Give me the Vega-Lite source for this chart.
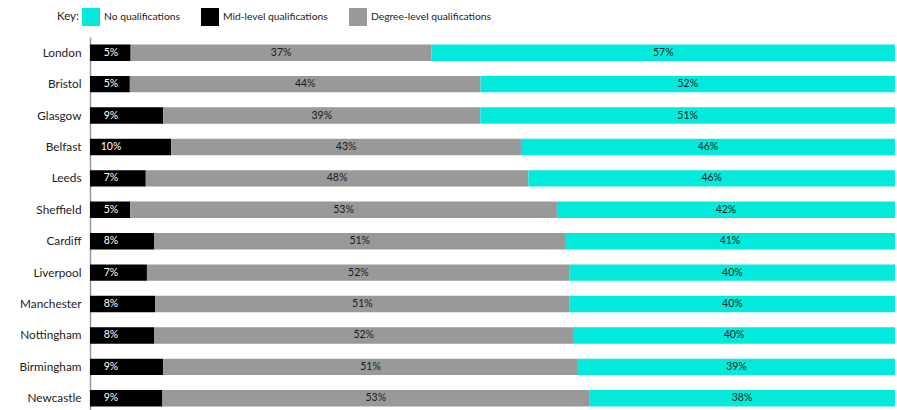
{
  "$schema": "https://vega.github.io/schema/vega-lite/v6.json",
  "width": 805,
  "height": 377,
  "autosize": "none",
  "padding": {"left": 90, "top": 37, "right": 2, "bottom": 0},
  "config": {"view": {"stroke": null}, "font": "Lato", "text": {"font": "Lato"}},
  "data": {"values": [
    {"city": "London", "q": "Mid-level qualifications", "v": 5, "k": 1},
    {"city": "London", "q": "Degree-level qualifications", "v": 37, "k": 2},
    {"city": "London", "q": "No qualifications", "v": 57, "k": 3},
    {"city": "Bristol", "q": "Mid-level qualifications", "v": 5, "k": 1},
    {"city": "Bristol", "q": "Degree-level qualifications", "v": 44, "k": 2},
    {"city": "Bristol", "q": "No qualifications", "v": 52, "k": 3},
    {"city": "Glasgow", "q": "Mid-level qualifications", "v": 9, "k": 1},
    {"city": "Glasgow", "q": "Degree-level qualifications", "v": 39, "k": 2},
    {"city": "Glasgow", "q": "No qualifications", "v": 51, "k": 3},
    {"city": "Belfast", "q": "Mid-level qualifications", "v": 10, "k": 1},
    {"city": "Belfast", "q": "Degree-level qualifications", "v": 43, "k": 2},
    {"city": "Belfast", "q": "No qualifications", "v": 46, "k": 3},
    {"city": "Leeds", "q": "Mid-level qualifications", "v": 7, "k": 1},
    {"city": "Leeds", "q": "Degree-level qualifications", "v": 48, "k": 2},
    {"city": "Leeds", "q": "No qualifications", "v": 46, "k": 3},
    {"city": "Sheffield", "q": "Mid-level qualifications", "v": 5, "k": 1},
    {"city": "Sheffield", "q": "Degree-level qualifications", "v": 53, "k": 2},
    {"city": "Sheffield", "q": "No qualifications", "v": 42, "k": 3},
    {"city": "Cardiff", "q": "Mid-level qualifications", "v": 8, "k": 1},
    {"city": "Cardiff", "q": "Degree-level qualifications", "v": 51, "k": 2},
    {"city": "Cardiff", "q": "No qualifications", "v": 41, "k": 3},
    {"city": "Liverpool", "q": "Mid-level qualifications", "v": 7, "k": 1},
    {"city": "Liverpool", "q": "Degree-level qualifications", "v": 52, "k": 2},
    {"city": "Liverpool", "q": "No qualifications", "v": 40, "k": 3},
    {"city": "Manchester", "q": "Mid-level qualifications", "v": 8, "k": 1},
    {"city": "Manchester", "q": "Degree-level qualifications", "v": 51, "k": 2},
    {"city": "Manchester", "q": "No qualifications", "v": 40, "k": 3},
    {"city": "Nottingham", "q": "Mid-level qualifications", "v": 8, "k": 1},
    {"city": "Nottingham", "q": "Degree-level qualifications", "v": 52, "k": 2},
    {"city": "Nottingham", "q": "No qualifications", "v": 40, "k": 3},
    {"city": "Birmingham", "q": "Mid-level qualifications", "v": 9, "k": 1},
    {"city": "Birmingham", "q": "Degree-level qualifications", "v": 51, "k": 2},
    {"city": "Birmingham", "q": "No qualifications", "v": 39, "k": 3},
    {"city": "Newcastle", "q": "Mid-level qualifications", "v": 9, "k": 1},
    {"city": "Newcastle", "q": "Degree-level qualifications", "v": 53, "k": 2},
    {"city": "Newcastle", "q": "No qualifications", "v": 38, "k": 3}
  ]},
  "encoding": {
    "y": {
      "field": "city",
      "type": "nominal",
      "sort": null,
      "scale": {"paddingInner": 0.48, "paddingOuter": 0.24},
      "axis": {
        "title": null,
        "ticks": false,
        "labelPadding": 9,
        "labelFontSize": 11.8,
        "labelColor": "#222222",
        "labelFont": "Lato",
        "domainColor": "#999999",
        "domainWidth": 1.5
      }
    }
  },
  "layer": [
    {
      "mark": {"type": "bar"},
      "encoding": {
        "x": {"field": "v", "type": "quantitative", "stack": "normalize", "axis": null, "scale": {"nice": false}},
        "color": {
          "field": "q",
          "type": "nominal",
          "scale": {
            "domain": ["No qualifications", "Mid-level qualifications", "Degree-level qualifications"],
            "range": ["#03EADD", "#000000", "#999999"]
          },
          "legend": {
            "title": "Key:",
            "titleOrient": "left",
            "titleFontWeight": "normal",
            "titleFontSize": 11.5,
            "titleColor": "#222222",
            "titleFont": "Lato",
            "titlePadding": 3,
            "orient": "none",
            "legendX": -33,
            "legendY": -29,
            "direction": "horizontal",
            "symbolType": "square",
            "symbolSize": 324,
            "symbolStrokeWidth": 0,
            "symbolOpacity": 1,
            "labelOffset": 4,
            "labelFontSize": 10.3,
            "labelColor": "#222222",
            "labelFont": "Lato",
            "columnPadding": 21
          }
        },
        "order": {"field": "k", "type": "quantitative"}
      }
    },
    {
      "mark": {
        "type": "text",
        "fontSize": 10.5,
        "color": "#1a1a1a",
        "align": "center",
        "baseline": "middle",
        "text": {"expr": "datum.k == 1 ? '' : datum.v + '%'"}
      },
      "encoding": {
        "x": {"field": "v", "type": "quantitative", "stack": "normalize", "bandPosition": 0.5},
        "order": {"field": "k", "type": "quantitative"}
      }
    },
    {
      "transform": [{"filter": "datum.k == 1"}],
      "mark": {
        "type": "text",
        "fontSize": 10.5,
        "color": "#ffffff",
        "align": "center",
        "baseline": "middle",
        "dx": 21,
        "text": {"expr": "datum.v + '%'"}
      },
      "encoding": {
        "x": {"datum": 0, "type": "quantitative"}
      }
    }
  ]
}
